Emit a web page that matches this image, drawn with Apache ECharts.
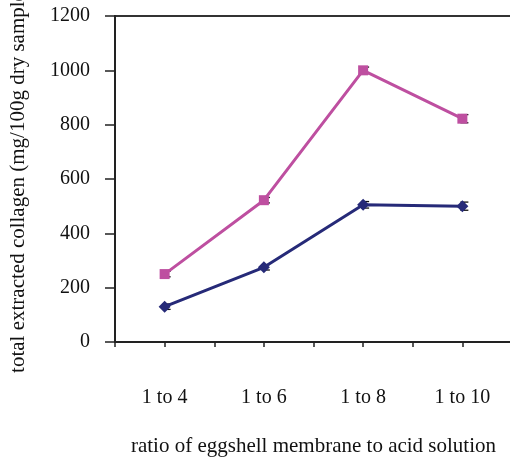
<!DOCTYPE html>
<html><head><meta charset="utf-8">
<script src="https://cdn.jsdelivr.net/npm/echarts@6/dist/echarts.min.js"></script>
<style>html,body{margin:0;padding:0;background:#fff}#c{width:510px;height:457px}</style>
</head><body><div id="c"></div>
<script>
const categories = ['1 to 4', '1 to 6', '1 to 8', '1 to 10'];
const pinkValues = [250, 522, 1000, 822];
const pinkErrors = [10, 10, 12, 15];
const blueValues = [130, 275, 505, 500];
const blueErrors = [10, 10, 12, 15];
const yTicks = [0, 200, 400, 600, 800, 1000, 1200];
const yTitle = 'total extracted collagen (mg/100g dry sample)';
const xTitle = 'ratio of eggshell membrane to acid solution';

const FONT = 'Liberation Serif';
const pink = '#BE4FA0';
const navy = '#262A78';

function errSeries(vals, errs, xAxisIndex) {
  return {
    type: 'custom', xAxisIndex: xAxisIndex, z: 2,
    data: vals.map((v, i) => [i, v - errs[i], v + errs[i]]),
    renderItem: function (params, api) {
      const lo = api.coord([api.value(0), api.value(1)]);
      const hi = api.coord([api.value(0), api.value(2)]);
      const x = lo[0] + 2, w = 4;
      const st = { stroke: '#111', lineWidth: 1.3 };
      return { type: 'group', children: [
        { type: 'line', shape: { x1: x, y1: lo[1], x2: x, y2: hi[1] }, style: st },
        { type: 'line', shape: { x1: x - w, y1: lo[1], x2: x + w, y2: lo[1] }, style: st },
        { type: 'line', shape: { x1: x - w, y1: hi[1], x2: x + w, y2: hi[1] }, style: st }
      ]};
    }
  };
}

const chart = echarts.init(document.getElementById('c'));
const axisLine = { lineStyle: { color: '#222', width: 2 } };
chart.setOption({
  animation: false,
  textStyle: { fontFamily: FONT },
  grid: { left: 115, top: 16, width: 397, height: 326, containLabel: false, outerBoundsMode: 'none',
    show: true, borderColor: '#333', borderWidth: 2, backgroundColor: 'transparent' },
  xAxis: [
    { type: 'category', data: categories, boundaryGap: true,
      axisLine: axisLine, axisTick: { show: true, length: 5, alignWithLabel: false, lineStyle: { color: '#222', width: 1.5 } },
      axisLabel: { color: '#111', fontSize: 20, fontFamily: FONT, margin: 46 },
      name: xTitle, nameLocation: 'middle', nameGap: 94,
      nameTextStyle: { color: '#111', fontSize: 21, fontFamily: FONT } },
    { type: 'category', data: categories, boundaryGap: true, position: 'bottom',
      axisLine: { show: false }, axisTick: { show: true, length: 5, alignWithLabel: true, lineStyle: { color: '#222', width: 1.5 } },
      axisLabel: { show: false } }
  ],
  yAxis: {
    type: 'value', min: yTicks[0], max: yTicks[yTicks.length - 1], interval: yTicks[1] - yTicks[0],
    axisLine: { show: true, lineStyle: { color: '#222', width: 2 } },
    axisTick: { show: true, length: 10, lineStyle: { color: '#222', width: 1.5 } },
    splitLine: { show: false },
    axisLabel: { color: '#111', fontSize: 20, fontFamily: FONT, margin: 25, formatter: v => String(v) },
    name: yTitle, nameLocation: 'middle', nameGap: 86, nameRotate: 90,
    nameTextStyle: { color: '#111', fontSize: 21, fontFamily: FONT }
  },
  series: [
    errSeries(pinkValues, pinkErrors, 0),
    errSeries(blueValues, blueErrors, 0),
    { type: 'line', data: pinkValues, symbol: 'rect', symbolSize: 10, z: 3,
      lineStyle: { color: pink, width: 3 }, itemStyle: { color: pink } },
    { type: 'line', data: blueValues, symbol: 'diamond', symbolSize: 12, z: 3,
      lineStyle: { color: navy, width: 3 }, itemStyle: { color: navy } }
  ]
});
</script></body></html>
